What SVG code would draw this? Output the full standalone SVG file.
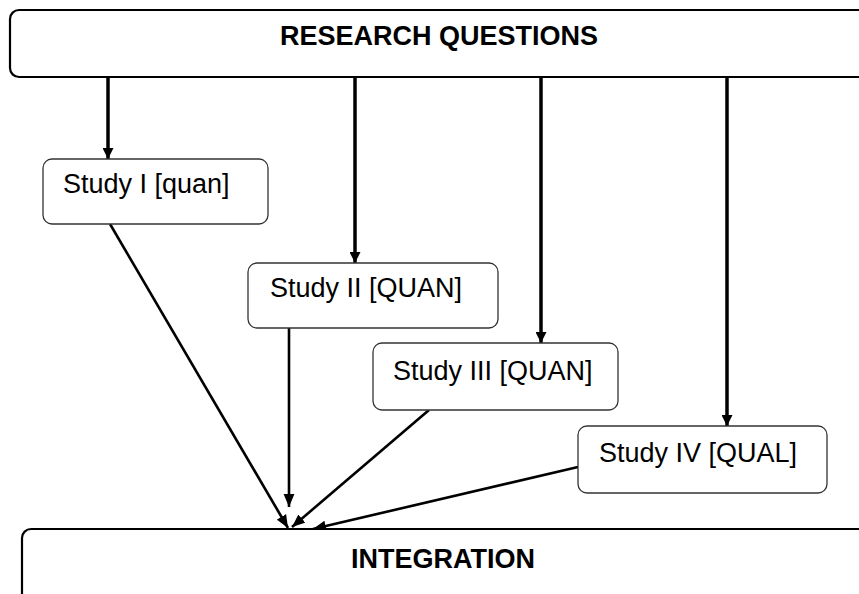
<svg xmlns="http://www.w3.org/2000/svg" width="859" height="594" viewBox="0 0 859 594">
<style>
.big{fill:#fff;stroke:#000;stroke-width:2.2}
.box{fill:#fff;stroke:#333;stroke-width:1.3}
.t{font-family:"Liberation Sans",Arial,Helvetica,sans-serif;font-size:27px;fill:#000}
.b{font-weight:bold;text-anchor:middle}
.v{stroke:#000;stroke-width:3.5;fill:none}
.d{stroke:#000;stroke-width:2.6;fill:none}
</style>
<defs>
<marker id="hv" markerUnits="userSpaceOnUse" markerWidth="11" markerHeight="11" viewBox="0 0 10 10" refX="10" refY="5" orient="auto">
<path d="M0,0 L10,5 L0,10 z" fill="#000"/>
</marker>
<marker id="hd" markerUnits="userSpaceOnUse" markerWidth="13" markerHeight="12" viewBox="0 0 12 10" refX="12" refY="5" orient="auto">
<path d="M0,0 L12,5 L0,10 z" fill="#000"/>
</marker>
</defs>
<g id="connectors">
<line class="v" x1="108" y1="77" x2="108" y2="159" marker-end="url(#hv)"/>
<line class="v" x1="355" y1="77" x2="355" y2="263" marker-end="url(#hv)"/>
<line class="v" x1="541" y1="77" x2="541" y2="343" marker-end="url(#hv)"/>
<line class="v" x1="727" y1="77" x2="727" y2="426" marker-end="url(#hv)"/>
<line class="d" x1="110" y1="224" x2="288" y2="528" marker-end="url(#hd)"/>
<line class="d" x1="289" y1="328" x2="289" y2="507" marker-end="url(#hd)"/>
<line class="d" x1="429" y1="410" x2="292" y2="527" marker-end="url(#hd)"/>
<line class="d" x1="578" y1="467" x2="313" y2="529" marker-end="url(#hd)"/>
</g>
<g id="research-questions">
<rect class="big" x="10" y="10" width="880" height="67" rx="9"/>
<text class="t b" x="439" y="45">RESEARCH QUESTIONS</text>
</g>
<g id="study-1">
<rect class="box" x="43" y="159" width="225" height="65" rx="9"/>
<text class="t" x="63" y="193">Study I [quan]</text>
</g>
<g id="study-2">
<rect class="box" x="248" y="263" width="250" height="65" rx="9"/>
<text class="t" x="270" y="297">Study II [QUAN]</text>
</g>
<g id="study-3">
<rect class="box" x="373" y="343" width="245" height="67" rx="9"/>
<text class="t" x="393" y="380">Study III [QUAN]</text>
</g>
<g id="study-4">
<rect class="box" x="578" y="426" width="249" height="67" rx="9"/>
<text class="t" x="599" y="462">Study IV [QUAL]</text>
</g>
<g id="integration">
<rect class="big" x="22" y="529" width="880" height="100" rx="9"/>
<text class="t b" x="443" y="568">INTEGRATION</text>
</g>
</svg>
